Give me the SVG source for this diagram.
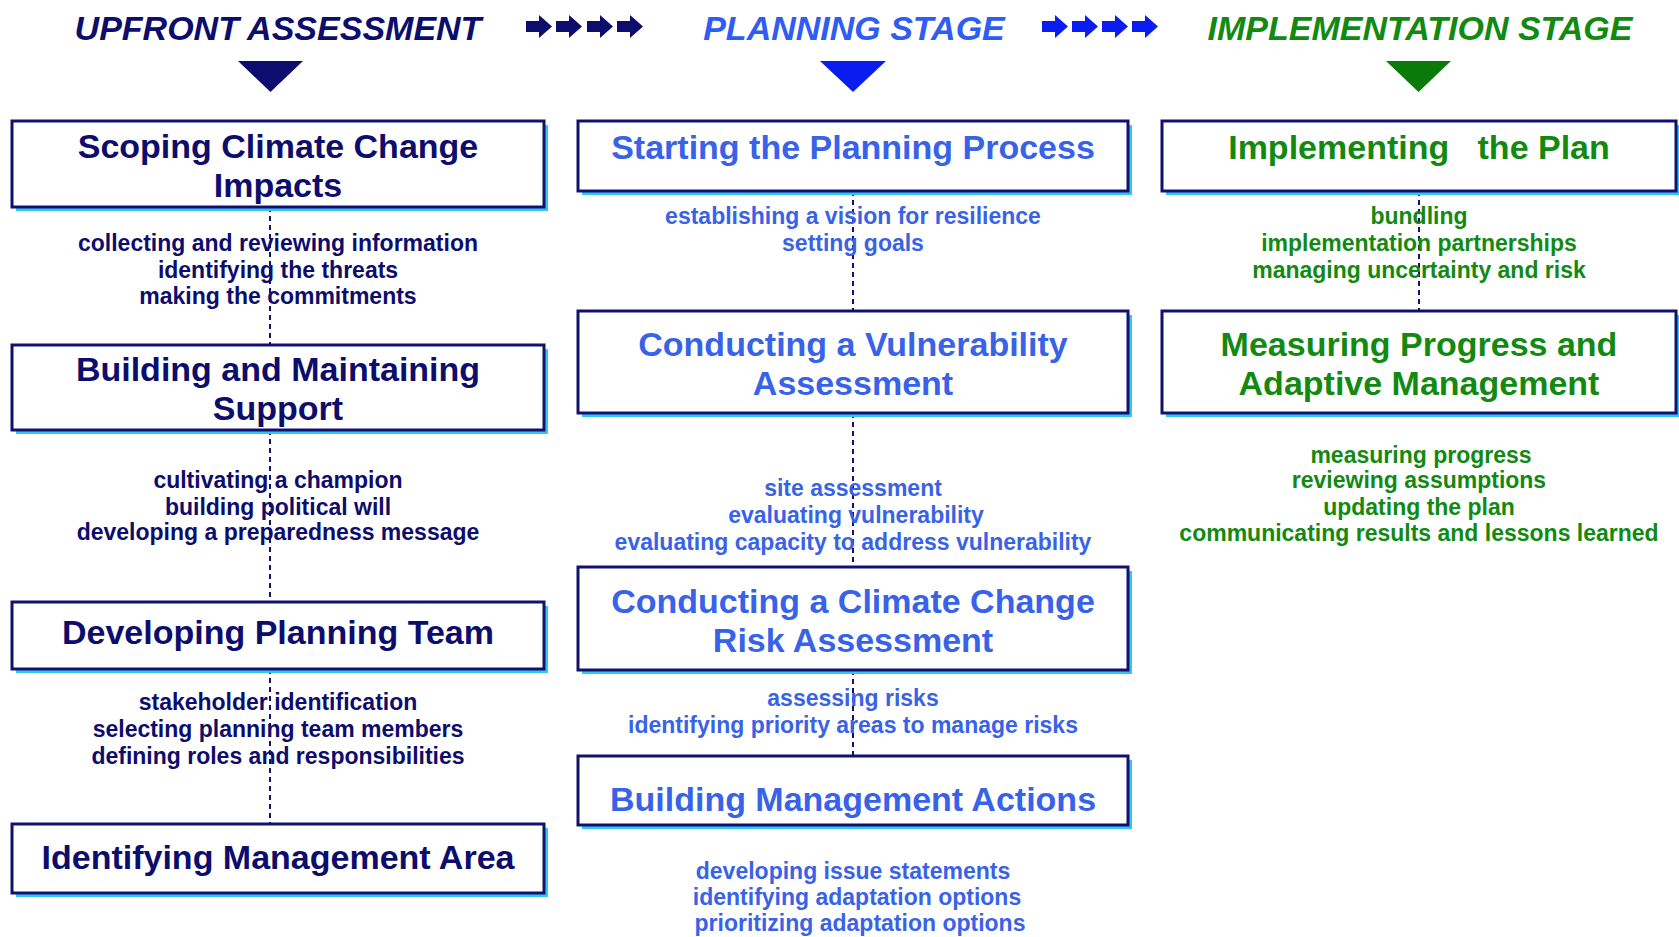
<svg xmlns="http://www.w3.org/2000/svg" xmlns:xlink="http://www.w3.org/1999/xlink" width="1679" height="937" viewBox="0 0 1679 937">
<defs>
<style>
text{font-family:"Liberation Sans",Arial,sans-serif;font-weight:bold;text-anchor:middle}
.hd{font-size:34px;font-style:italic}
.tt{font-size:34px}
.sb{font-size:23px}
.nv{fill:#0d0d6d}
.bl{fill:#3862e8}
.gr{fill:#128a12}
.box{fill:#fff;stroke:#12126e;stroke-width:3}
.sh{fill:#33c6f2}
.dash{stroke:#12126e;stroke-width:2;stroke-dasharray:5 4;fill:none}
</style>
<path id="arr" d="M0,21 H13 V15 L26,26.5 L13,38 V32 H0 Z"/>
</defs>
<rect width="1679" height="937" fill="#fff"/>

<g id="headers">
<text class="hd nv" x="278" y="40">UPFRONT ASSESSMENT</text>
<text class="hd" x="854" y="40" fill="#2f5cf2">PLANNING STAGE</text>
<text class="hd gr" x="1420" y="40">IMPLEMENTATION STAGE</text>
<g fill="#0d0d6d">
<use xlink:href="#arr" x="526"/><use xlink:href="#arr" x="556"/><use xlink:href="#arr" x="587"/><use xlink:href="#arr" x="617"/>
</g>
<g fill="#0a1cf0">
<use xlink:href="#arr" x="1042"/><use xlink:href="#arr" x="1072"/><use xlink:href="#arr" x="1102"/><use xlink:href="#arr" x="1132"/>
</g>
<polygon points="238,61 303,61 270.5,92" fill="#0d0d6d"/>
<polygon points="820,61 886,61 853,92" fill="#0a1cf0"/>
<polygon points="1386,61 1451,61 1418.5,92" fill="#0a7a0a"/>
</g>

<g id="connectors">
<line class="dash" x1="270" y1="207" x2="270" y2="345"/>
<line class="dash" x1="270" y1="430" x2="270" y2="602"/>
<line class="dash" x1="270" y1="669" x2="270" y2="824"/>
<line class="dash" x1="853" y1="191" x2="853" y2="311"/>
<line class="dash" x1="853" y1="413" x2="853" y2="567"/>
<line class="dash" x1="853" y1="670" x2="853" y2="756"/>
<line class="dash" x1="1419" y1="191" x2="1419" y2="311"/>
</g>

<g id="scoping">
<rect class="sh" x="16" y="125" width="532" height="86"/>
<rect class="box" x="12" y="121" width="532" height="86"/>
<text class="tt nv" x="278" y="158">Scoping Climate Change</text>
<text class="tt nv" x="278" y="197">Impacts</text>
</g>
<g id="scoping-notes">
<text class="sb nv" x="278" y="251">collecting and reviewing information</text>
<text class="sb nv" x="278" y="278">identifying the threats</text>
<text class="sb nv" x="278" y="304">making the commitments</text>
</g>

<g id="support">
<rect class="sh" x="16" y="349" width="532" height="85"/>
<rect class="box" x="12" y="345" width="532" height="85"/>
<text class="tt nv" x="278" y="381">Building and Maintaining</text>
<text class="tt nv" x="278" y="420">Support</text>
</g>
<g id="support-notes">
<text class="sb nv" x="278" y="488">cultivating a champion</text>
<text class="sb nv" x="278" y="515">building political will</text>
<text class="sb nv" x="278" y="540">developing a preparedness message</text>
</g>

<g id="team">
<rect class="sh" x="16" y="606" width="532" height="67"/>
<rect class="box" x="12" y="602" width="532" height="67"/>
<text class="tt nv" x="278" y="644">Developing Planning Team</text>
</g>
<g id="team-notes">
<text class="sb nv" x="278" y="710">stakeholder identification</text>
<text class="sb nv" x="278" y="737">selecting planning team members</text>
<text class="sb nv" x="278" y="764">defining roles and responsibilities</text>
</g>

<g id="area">
<rect class="sh" x="16" y="828" width="532" height="69"/>
<rect class="box" x="12" y="824" width="532" height="69"/>
<text class="tt nv" x="278" y="869">Identifying Management Area</text>
</g>

<g id="starting">
<rect class="sh" x="582" y="125" width="550" height="70"/>
<rect class="box" x="578" y="121" width="550" height="70"/>
<text class="tt bl" x="853" y="159">Starting the Planning Process</text>
</g>
<g id="starting-notes">
<text class="sb bl" x="853" y="224">establishing a vision for resilience</text>
<text class="sb bl" x="853" y="251">setting goals</text>
</g>

<g id="vulnerability">
<rect class="sh" x="582" y="315" width="550" height="102"/>
<rect class="box" x="578" y="311" width="550" height="102"/>
<text class="tt bl" x="853" y="356">Conducting a Vulnerability</text>
<text class="tt bl" x="853" y="395">Assessment</text>
</g>
<g id="vulnerability-notes">
<text class="sb bl" x="853" y="496">site assessment</text>
<text class="sb bl" x="856" y="523">evaluating vulnerability</text>
<text class="sb bl" x="853" y="550">evaluating capacity to address vulnerability</text>
</g>

<g id="risk">
<rect class="sh" x="582" y="571" width="550" height="103"/>
<rect class="box" x="578" y="567" width="550" height="103"/>
<text class="tt bl" x="853" y="613">Conducting a Climate Change</text>
<text class="tt bl" x="853" y="652">Risk Assessment</text>
</g>
<g id="risk-notes">
<text class="sb bl" x="853" y="706">assessing risks</text>
<text class="sb bl" x="853" y="733">identifying priority areas to manage risks</text>
</g>

<g id="actions">
<rect class="sh" x="582" y="760" width="550" height="69"/>
<rect class="box" x="578" y="756" width="550" height="69"/>
<text class="tt bl" x="853" y="811">Building Management Actions</text>
</g>
<g id="actions-notes">
<text class="sb bl" x="853" y="879">developing issue statements</text>
<text class="sb bl" x="857" y="905">identifying adaptation options</text>
<text class="sb bl" x="860" y="931">prioritizing adaptation options</text>
</g>

<g id="implementing">
<rect class="sh" x="1166" y="125" width="514" height="70"/>
<rect class="box" x="1162" y="121" width="514" height="70"/>
<text class="tt gr" x="1419" y="159" style="white-space:pre">Implementing   the Plan</text>
</g>
<g id="implementing-notes">
<text class="sb gr" x="1419" y="224">bundling</text>
<text class="sb gr" x="1419" y="251">implementation partnerships</text>
<text class="sb gr" x="1419" y="278">managing uncertainty and risk</text>
</g>

<g id="measuring">
<rect class="sh" x="1166" y="315" width="514" height="102"/>
<rect class="box" x="1162" y="311" width="514" height="102"/>
<text class="tt gr" x="1419" y="356">Measuring Progress and</text>
<text class="tt gr" x="1419" y="395">Adaptive Management</text>
</g>
<g id="measuring-notes">
<text class="sb gr" x="1421" y="463">measuring progress</text>
<text class="sb gr" x="1419" y="488">reviewing assumptions</text>
<text class="sb gr" x="1419" y="515">updating the plan</text>
<text class="sb gr" x="1419" y="541">communicating results and lessons learned</text>
</g>
</svg>
